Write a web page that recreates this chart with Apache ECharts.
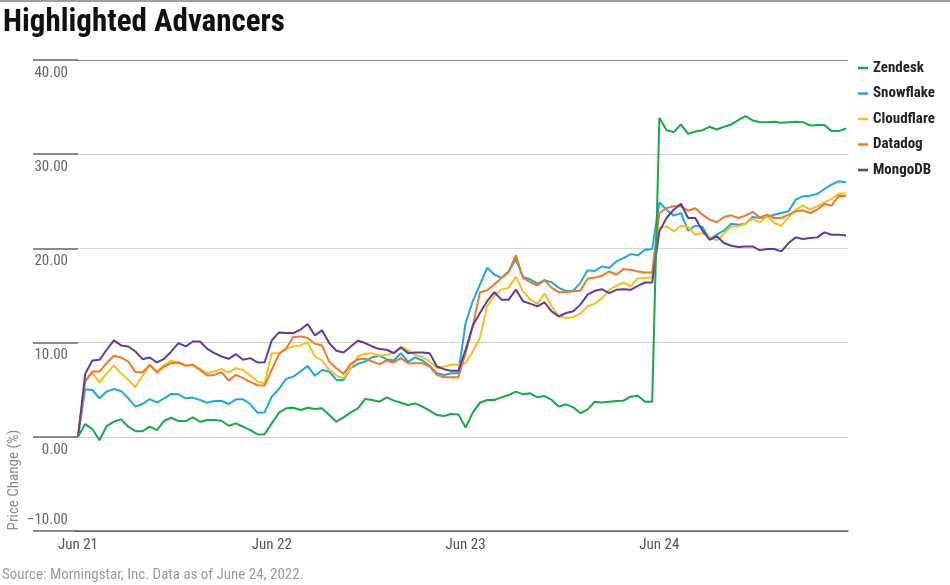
<!DOCTYPE html>
<html><head><meta charset="utf-8">
<script src="https://cdn.jsdelivr.net/npm/echarts@6/dist/echarts.min.js"></script>
<style>html,body{margin:0;padding:0;background:#fff}#c{width:950px;height:585px}</style>
</head><body><div id="c"></div>
<script>
const dayLabels = ['Jun 21','Jun 22','Jun 23','Jun 24'];
const dayStartIndex = [0,27,54,81];
const seriesNames = ['Zendesk','Snowflake','Cloudflare','Datadog','MongoDB'];

const zendesk = [0,1.35,0.82,-0.36,1.14,1.6,1.88,1.07,0.6,0.6,1.07,0.71,1.7,2.02,1.67,1.67,2.06,1.6,1.78,1.78,1.7,1.17,1.42,1.07,0.71,0.25,0.28,1.42,2.56,3.02,3.09,2.84,3.09,2.95,3.02,2.31,1.6,
2.06,2.59,3.02,4.01,3.91,3.73,4.19,3.84,3.62,3.37,3.55,3.2,2.77,2.31,2.2,2.42,2.38,0.99,2.56,3.62,3.91,3.91,4.19,4.44,4.8,4.51,4.62,4.19,4.33,3.91,3.2,3.45,3.13,2.49,2.91,3.72,
3.65,3.72,3.79,3.83,4.26,4.36,3.72,3.72,33.87,32.55,32.34,33.16,32.16,32.41,32.55,32.91,32.62,32.91,33.16,33.62,34.04,33.58,33.4,33.4,33.44,33.33,33.4,33.44,33.4,33.05,33.09,33.09,32.45,32.45,32.73];

const snowflake = [0,5.04,4.97,4.09,4.8,5.08,4.87,4.09,3.2,3.48,4.01,3.62,4.09,4.55,4.51,4.09,4.16,3.91,3.62,3.8,3.8,3.48,3.98,3.98,3.48,2.56,2.59,4.26,5.08,6.15,6.39,6.93,7.53,6.47,7.1,6.93,6.04,
6.04,7.28,7.74,7.99,8.45,8.6,8.24,8.1,8.88,7.99,8.42,8.1,7.53,6.75,6.57,6.75,6.75,12.08,14.39,16.16,17.94,17.23,16.87,17.58,18.83,16.98,16.7,16.27,16.63,16.41,15.81,15.45,15.52,16.34,17.69,17.6,
18.09,17.91,18.62,18.97,19.4,19.26,19.86,19.93,24.89,24.11,23.48,23.76,21.88,22.41,22.27,20.99,21.45,21.88,22.62,22.52,22.62,23.33,23.23,23.33,23.58,23.76,23.94,25.18,25.53,25.6,25.78,26.31,26.77,27.13,27.02];

const cloudflare = [0,6.0,6.8,5.75,6.75,7.57,6.75,6.04,5.26,6.5,7.64,6.93,7.64,8.06,7.92,7.57,7.64,7.18,6.75,6.93,7.18,6.82,7.28,7.1,6.5,5.86,5.68,8.88,8.88,9.34,9.59,9.7,10.05,8.53,8.1,7.1,6.5,
6.22,7.28,8.53,8.81,8.88,8.6,8.7,8.95,9.59,9.17,8.7,8.45,7.99,7.28,7.46,7.64,7.64,7.82,9.06,10.48,13.85,14.99,15.63,15.81,16.98,15.45,14.56,14.1,15.2,13.85,12.79,12.61,12.72,13.07,13.85,14.12,
14.72,15.6,16.03,16.38,15.96,16.84,16.84,16.95,22.16,22.34,21.81,22.41,22.27,21.45,21.63,21.21,20.85,21.56,22.34,22.34,22.62,23.16,22.77,23.4,22.7,22.41,23.33,24.11,24.57,24.11,24.47,24.89,25.25,25.82,25.82];

const datadog = [0,5.86,6.93,6.93,7.82,8.6,8.42,7.99,6.89,6.86,7.64,6.82,7.46,7.82,7.89,7.53,7.64,7.1,6.5,6.57,6.86,5.97,6.57,6.22,5.83,5.47,5.44,7.1,8.77,9.38,10.59,10.66,10.48,9.88,9.7,7.99,7.28,
6.68,7.74,8.24,8.28,7.99,7.71,8.1,7.89,8.35,7.82,7.82,7.82,7.46,6.57,6.32,6.32,6.32,8.88,11.72,15.35,15.56,16.16,16.87,17.48,19.29,16.87,16.41,16.06,16.63,15.81,15.35,15.38,15.45,15.52,16.77,16.9,
17.09,17.55,17.2,17.8,17.73,17.55,17.45,17.45,23.76,24.29,24.47,24.47,24.0,24.26,23.58,23.05,22.77,23.33,23.51,23.23,23.48,23.87,23.3,23.58,23.23,23.23,23.58,23.94,24.04,23.76,24.11,24.72,24.54,25.6,25.53];

const mongodb = [0,6.68,8.1,8.17,9.24,10.23,9.7,9.59,9.06,8.24,8.42,7.89,8.28,9.06,9.95,9.59,10.12,10.12,9.34,8.88,8.53,8.28,8.77,8.17,8.35,7.89,7.92,10.23,11.08,11.01,11.01,11.37,11.97,10.76,11.3,9.95,9.13,
8.95,9.59,10.2,9.95,9.59,9.31,9.24,8.88,9.48,8.88,8.95,8.95,8.88,7.46,7.18,7.0,7.0,9.24,11.79,13.14,14.39,15.35,14.56,14.56,15.63,14.39,14.14,13.85,14.28,13.32,12.79,13.14,13.32,14.03,15.1,15.5,
15.67,15.25,15.6,15.67,15.6,16.03,16.38,16.38,21.81,23.23,24.11,24.75,23.23,23.23,21.91,20.92,21.28,20.57,20.28,20.14,20.21,20.21,19.79,19.93,19.93,19.68,20.57,21.17,20.99,21.1,21.17,21.7,21.45,21.45,21.38];

const seriesValues = [zendesk, snowflake, cloudflare, datadog, mongodb];
const colors = ['#1ba64c','#1ea8de','#f4c21a','#ec7a2c','#5d3f97'];
const FONT = "'Liberation Sans Narrow','Roboto Condensed','DejaVu Sans Condensed','Arial Narrow',sans-serif";

const chart = echarts.init(document.getElementById('c'), null, {renderer:'canvas'});
chart.setOption({
  animation: false,
  backgroundColor: '#fff',
  title: [
    {text:'Highlighted Advancers', left:3, top:8, padding:0,
     textStyle:{fontFamily:FONT, fontWeight:'bold', fontSize:31, color:'#111'}},
    {text:'Source: Morningstar, Inc. Data as of June 24, 2022.', left:2, top:568, padding:0,
     textStyle:{fontFamily:FONT, fontWeight:'normal', fontSize:15, color:'#9a9a9a'}}
  ],
  legend: {
    data: seriesNames, orient:'vertical', left:858, top:60, padding:0,
    icon:'rect', itemWidth:10, itemHeight:2.5, itemGap:9.5,
    textStyle:{fontFamily:FONT, fontWeight:'bold', fontSize:15, color:'#222', lineHeight:16}
  },
  graphic: [
    {type:'line', shape:{x1:0,y1:1,x2:950,y2:1}, style:{stroke:'#a0a0a0', lineWidth:2}},
    {type:'text', x:14, y:480, rotation:Math.PI/2,
     style:{text:'Price Change (%)', fontFamily:FONT, fontSize:15, fill:'#8a8a8a', align:'center', verticalAlign:'middle'}}
  ],
  grid: {left:75, right:102, top:60, bottom:54},
  xAxis: {
    type:'value', min:-0.418, max:107.28,
    axisLine:{show:true, onZero:false, lineStyle:{color:'#666', width:1.5}},
    axisTick:{show:false}, splitLine:{show:false},
    axisLabel:{customValues:dayStartIndex, formatter:v => dayLabels[dayStartIndex.indexOf(v)] || '',
      fontFamily:FONT, fontSize:15, color:'#555', margin:7}
  },
  yAxis: {
    type:'value', min:-10, max:40, interval:10, offset:7,
    axisLine:{show:false},
    axisTick:{show:true, length:45, lineStyle:{color:'#666', width:1.5}},
    splitLine:{show:true, lineStyle:{color:['#666','#d2d2d2','#d2d2d2','#d2d2d2','#d2d2d2','#8c8c8c'], width:1.2}},
    axisLabel:{margin:0, verticalAlign:'middle', color:'#666', fontFamily:FONT, fontSize:15,
      formatter: v => v < -5 ? '{up|' + v.toFixed(2).replace('-', '\u2212') + '}' : '{dn|' + v.toFixed(2) + '}',
      rich:{ up:{padding:[0,0,22,0], fontFamily:FONT, fontSize:15, color:'#666'},
             dn:{padding:[26,0,0,0], fontFamily:FONT, fontSize:15, color:'#666'} }
    }
  },
  series: seriesNames.map((name, k) => ({
    name, type:'line', showSymbol:false, symbol:'none', smooth:false,
    z: k === 0 ? 3 : 2,
    color: colors[k],
    lineStyle:{width:2, color:colors[k]},
    emphasis:{disabled:true},
    data: seriesValues[k].map((v, i) => [i, v])
  }))
});
</script></body></html>
